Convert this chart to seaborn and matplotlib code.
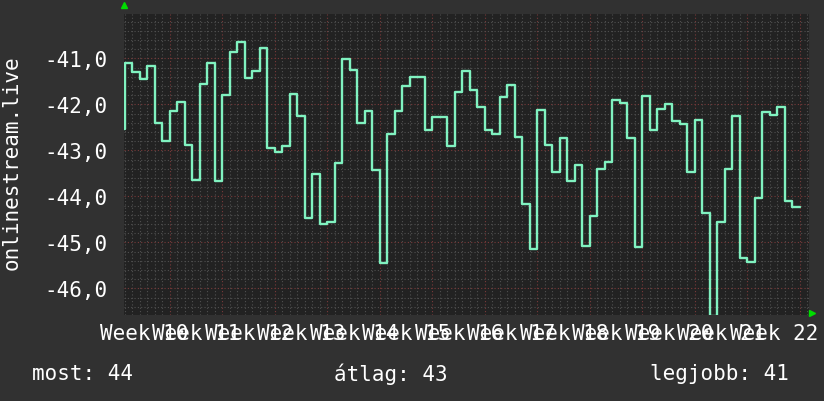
import numpy as np
import pandas as pd
import seaborn as sns
import matplotlib.pyplot as plt
from matplotlib.ticker import FixedLocator, MultipleLocator

# daily values, day 0 = start of Week 10
values = [-42.54, -41.11, -41.29, -41.44, -41.16, -42.41, -42.80, -42.14, -41.94, -42.89,
          -43.65, -41.55, -41.10, -43.67, -41.80, -40.86, -40.64, -41.42, -41.28, -40.78,
          -42.96, -43.03, -42.90, -41.78, -42.25, -44.47, -43.51, -44.60, -44.55, -43.27,
          -41.02, -41.25, -42.40, -42.14, -43.42, -45.45, -42.64, -42.15, -41.60, -41.41,
          -41.41, -42.55, -42.27, -42.27, -42.90, -41.73, -41.28, -41.68, -42.06, -42.55,
          -42.64, -41.84, -41.58, -42.70, -44.16, -45.14, -42.12, -42.89, -43.47, -42.73,
          -43.67, -43.31, -45.08, -44.43, -43.41, -43.25, -41.90, -41.97, -42.73, -45.10,
          -41.82, -42.55, -42.10, -41.99, -42.36, -42.42, -43.47, -42.33, -44.36, -46.60,
          -44.55, -43.40, -42.25, -45.33, -45.42, -44.03, -42.16, -42.23, -42.05, -44.10,
          -44.23]
week_labels = ['Week 10', 'Week 11', 'Week 12', 'Week 13', 'Week 14', 'Week 15', 'Week 16',
               'Week 17', 'Week 18', 'Week 19', 'Week 20', 'Week 21', 'Week 22']
y_ticks = [-46, -45, -44, -43, -42, -41]
y_labels = ['-46,0', '-45,0', '-44,0', '-43,0', '-42,0', '-41,0']
ylabel = 'onlinestream.live'
stats = ['most: 44', 'átlag: 43', 'legjobb: 41']

# step line needs the last value held until end of the last day
days = list(range(len(values))) + [len(values)]
df = pd.DataFrame({'day': days, 'val': values + [values[-1]]})

sns.set_style('dark')
plt.rcParams['font.family'] = ['DejaVu Sans Mono', 'DejaVu Sans']

bg = '#313131'
fig = plt.figure(figsize=(8.24, 4.02), dpi=100, facecolor=bg)
ax = fig.add_axes([124/824, 86/402, 685/824, 301.3/402])
ax.set_facecolor('#222222')

# grid
ax.xaxis.set_minor_locator(MultipleLocator(1))
ax.yaxis.set_minor_locator(MultipleLocator(0.2))
ax.xaxis.set_major_locator(FixedLocator(np.arange(7, 92, 7)))
ax.set_yticks(y_ticks)
ax.grid(which='minor', color='#505050', linestyle=(0, (1, 2)), linewidth=0.8)
ax.grid(which='major', color='#7a3a3a', linestyle=(0, (1, 2)), linewidth=0.8)
ax.set_axisbelow(True)

sns.lineplot(data=df, x='day', y='val', ax=ax, drawstyle='steps-post',
             color='#80f2c0', linewidth=1.7, zorder=3)

ax.set_xlim(0.867, 92.2)
ax.set_ylim(-46.58, -40.03)

# week labels in the middle of each week
ax.set_xticklabels([])
for i, lab in enumerate(week_labels):
    ax.text(7 * i + 3.5, -0.025, lab, transform=ax.get_xaxis_transform(),
            ha='center', va='top', color='white', fontsize=15)
ax.set_yticklabels(y_labels)
ax.tick_params(axis='y', length=0, pad=12, labelsize=15, labelcolor='white')
ax.tick_params(axis='x', which='both', length=2, color='#555555')
ax.set_xlabel('')
ax.set_ylabel('')
for s in ax.spines.values():
    s.set_visible(False)

# rrdtool style arrows
ax.plot([0], [1.03], marker='^', color='#00dd00', markersize=5,
        transform=ax.transAxes, clip_on=False)
ax.plot([1.005], [0.005], marker='>', color='#00dd00', markersize=5,
        transform=ax.transAxes, clip_on=False)

fig.text(12/824, 1 - 163/402, ylabel, rotation=90, ha='center', va='center',
         color='white', fontsize=15)
fig.text(32/824, 1 - 374/402, stats[0], ha='left', va='center', color='white', fontsize=15)
fig.text(334/824, 1 - 374/402, stats[1], ha='left', va='center', color='white', fontsize=15)
fig.text(650/824, 1 - 374/402, stats[2], ha='left', va='center', color='white', fontsize=15)

fig.savefig('out.png', dpi=100, facecolor=bg)
